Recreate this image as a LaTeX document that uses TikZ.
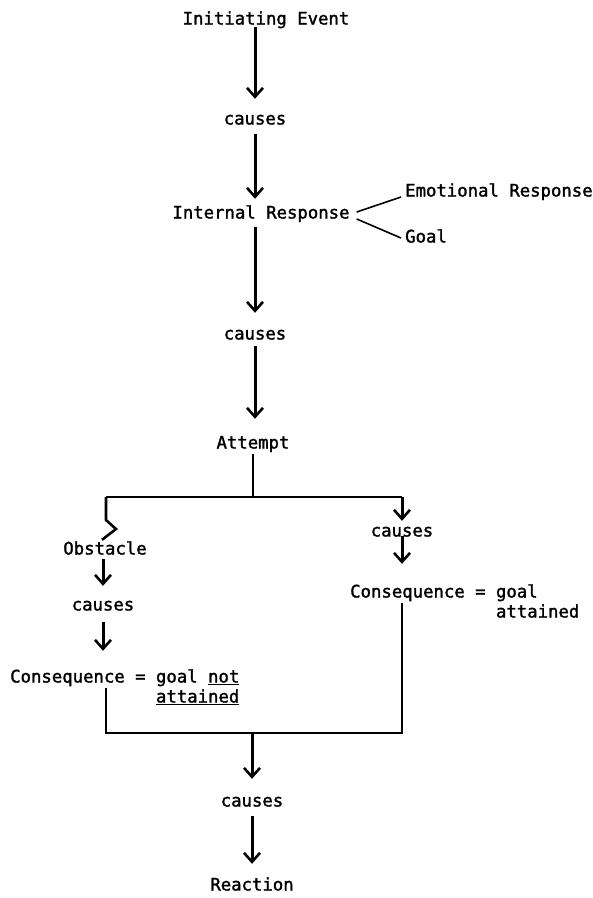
\documentclass[tikz,border=0pt]{standalone}
\usepackage{fontspec}
\newfontfamily\typew{DejaVu Sans Mono}[FakeBold=1.6]
\usetikzlibrary{arrows.meta,calc}
\begin{document}
\begin{tikzpicture}[x=1pt,y=-1pt,
 txt/.style={font=\typew\fontsize{17.3}{20}\selectfont, inner xsep=0pt, inner ysep=2pt, text height=12.5pt, text depth=3.5pt},
 arr/.style={line width=3pt, -{Straight Barb[length=9pt,width=16pt,line width=2.6pt]}},
 ln/.style={line width=2.6pt},
 thinln/.style={line width=1.6pt}]
\useasboundingbox (0,0) rectangle (593,898);
\node[txt] (ie) at (266,20) {Initiating Event};
\node[txt] (c1) at (255,120) {causes};
\node[txt] (ir) at (261,214) {Internal Response};
\node[txt,anchor=west] (er) at (405,192) {Emotional Response};
\node[txt,anchor=west] (goal) at (405,238) {Goal};
\node[txt] (c2) at (255,335) {causes};
\node[txt] (at) at (253,444) {Attempt};
\coordinate (bl) at (106,497); \coordinate (bm) at (253,497); \coordinate (br) at (402,497);
\node[txt] (c3) at (402,532) {causes};
\node[txt,anchor=west] (cq1) at (350,593) {Consequence = goal};
\node[txt,anchor=west] (at1) at (350,613) {\hphantom{Consequence = }attained};
\node[txt] (ob) at (105,550) {Obstacle};
\node[txt] (c4) at (103,606) {causes};
\node[txt,anchor=west] (cq2) at (10,678) {Consequence = goal \underline{not}};
\node[txt,anchor=west] (at2) at (10,698) {\hphantom{Consequence = }\underline{attained}};
\coordinate (dl) at (106,733); \coordinate (dm) at (252,733); \coordinate (dr) at (402,733);
\node[txt] (c5) at (252,802) {causes};
\node[txt] (re) at (252,886) {Reaction};

\draw[arr, shorten <=-3pt, shorten >=11pt] (ie.south -| c1) -- (c1.north);
\draw[arr, shorten <=4pt, shorten >=5pt] (c1.south) -- (ir.north -| c1);
\draw[arr, shorten <=3pt, shorten >=12pt] (ir.south -| c2) -- (c2.north);
\draw[arr, shorten <=1pt, shorten >=15pt] (c2.south) -- (at.north -| c2);
\draw[thinln] ([xshift=7pt,yshift=2pt]ir.east) -- ([xshift=-4pt,yshift=-5pt]er.west);
\draw[thinln] ([xshift=7pt,yshift=-5pt]ir.east) -- ([xshift=-4pt]goal.west);
\draw[ln] (at.south) -- (bm);
\draw[ln] (bl) -- (br);
\draw[ln] (bl) -- ++(0,23) -- ++(10,9) -- ([xshift=-3pt]ob.north);
\draw[arr, shorten >=1pt] (br) -- (c3.north);
\draw[arr, shorten <=-6pt, shorten >=19pt] (c3.south) -- (cq1.north -| c3);
\draw[ln] (cq1.south -| c3) -- (dr) -- (dl) -- (cq2.south -| bl);
\draw[arr, shorten <=-1pt, shorten >=10pt] (ob.south -| c4) -- (c4.north);
\draw[arr, shorten <=6pt, shorten >=17pt] (c4.south) -- (cq2.north -| c4);
\draw[arr, shorten >=13pt] (dm) -- (c5.north);
\draw[arr, shorten <=4pt, shorten >=12pt] (c5.south) -- (re.north);
\end{tikzpicture}
\end{document}
